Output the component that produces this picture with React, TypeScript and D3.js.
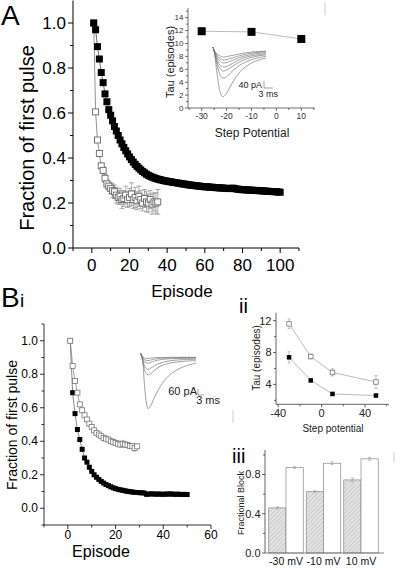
import React from "react";
import * as d3 from "d3";

const W = 404;
const H = 568;
const FONT = "'Liberation Sans', Arial, Helvetica, sans-serif";

// ---------- Panel A main ----------
const aFilled = [
  1.0, 0.97, 0.895, 0.84, 0.78, 0.735, 0.685, 0.65, 0.615, 0.59,
  0.565, 0.54, 0.52, 0.5, 0.48, 0.463, 0.447, 0.432, 0.418, 0.405,
  0.393, 0.382, 0.372, 0.363, 0.355, 0.347, 0.34, 0.334, 0.328, 0.323,
  0.319, 0.315, 0.312, 0.309, 0.306, 0.304, 0.302, 0.3, 0.298, 0.297,
  0.295, 0.294, 0.292, 0.291, 0.29, 0.288, 0.287, 0.285, 0.284, 0.283,
  0.281, 0.28, 0.279, 0.278, 0.277, 0.276, 0.275, 0.274, 0.273, 0.272,
  0.272, 0.271, 0.27, 0.27, 0.269, 0.268, 0.268, 0.267, 0.267, 0.266,
  0.265, 0.265, 0.264, 0.265, 0.266, 0.264, 0.262, 0.261, 0.26, 0.259,
  0.259, 0.258, 0.258, 0.257, 0.257, 0.256, 0.256, 0.255, 0.255, 0.254,
  0.254, 0.253, 0.252, 0.252, 0.251, 0.251, 0.25, 0.25, 0.249, 0.248,
];
const aOpen = [
  1.0, 0.605, 0.48, 0.42, 0.365, 0.345, 0.31, 0.285, 0.275, 0.265,
  0.255, 0.25, 0.235, 0.225, 0.23, 0.215, 0.22, 0.235, 0.215, 0.225,
  0.24, 0.215, 0.225, 0.21, 0.23, 0.215, 0.2, 0.22, 0.205, 0.2,
  0.215, 0.195, 0.205, 0.2, 0.205,
];
const aOpenErr = [
  0, 0.008, 0.01, 0.01, 0.012, 0.015, 0.018, 0.02, 0.02, 0.025,
  0.03, 0.03, 0.035, 0.03, 0.035, 0.04, 0.035, 0.04, 0.035, 0.04,
  0.05, 0.04, 0.045, 0.04, 0.045, 0.04, 0.035, 0.04, 0.045, 0.04,
  0.04, 0.045, 0.04, 0.045, 0.055,
];
const aXMajor = [0, 20, 40, 60, 80, 100];
const aXMinor = [-10, 10, 30, 50, 70, 90, 110];
const aYMajor = [0, 0.2, 0.4, 0.6, 0.8, 1.0];
const aYMinor = [0.1, 0.3, 0.5, 0.7, 0.9];

// ---------- Panel A inset ----------
const insetPotentials = [-30, -10, 10];
const insetTau = [11.9, 11.8, 10.7];
const insetTauErr = [0.4, 0.3, 0.4];
const insetXMajor = [-30, -20, -10, 0, 10];
const insetXMinor = [-35, -25, -15, -5, 5, 15];
const insetYMajor = [0, 2, 4, 6, 8, 10, 12, 14];
const insetYMinor = [1, 3, 5, 7, 9, 11, 13, 15];

const traceTimesA = [0, 0.5, 1.5, 2.5, 3.3, 4.5, 6, 8, 10, 13, 16, 18];
const tracesA = [
  [17, -20, -150, -245, -267, -250, -205, -150, -110, -75, -55, -46],
  [17, -15, -95, -145, -160, -155, -130, -100, -78, -56, -42, -36],
  [17, -12, -75, -108, -120, -116, -100, -78, -60, -43, -32, -28],
  [17, -10, -60, -88, -97, -95, -82, -64, -48, -34, -26, -22],
  [17, -8, -45, -66, -74, -72, -63, -50, -38, -26, -18, -15],
  [17, -6, -35, -50, -57, -55, -48, -38, -28, -18, -12, -10],
  [17, -4, -24, -35, -40, -38, -33, -26, -19, -12, -8, -6],
];

// ---------- Panel Bi ----------
const bOpen = [
  1.0, 0.85, 0.76, 0.69, 0.62, 0.585, 0.555, 0.53, 0.505, 0.485,
  0.465, 0.45, 0.44, 0.43, 0.42, 0.415, 0.41, 0.4, 0.395, 0.39,
  0.385, 0.38, 0.385, 0.38, 0.378, 0.372, 0.37, 0.36, 0.37,
];
const bOpenErr = [
  0, 0.01, 0.01, 0.01, 0.01, 0.01, 0.01, 0.01, 0.01, 0.01,
  0.01, 0.01, 0.01, 0.012, 0.012, 0.012, 0.012, 0.012, 0.012, 0.015,
  0.015, 0.015, 0.02, 0.015, 0.015, 0.015, 0.015, 0.02, 0.015,
];
const bFilled = [
  1.0, 0.69, 0.565, 0.47, 0.41, 0.352, 0.3, 0.275, 0.245, 0.22,
  0.2, 0.185, 0.172, 0.16, 0.15, 0.142, 0.135, 0.128, 0.122, 0.117,
  0.113, 0.11, 0.107, 0.104, 0.101, 0.099, 0.097, 0.095, 0.094, 0.093,
  0.092, 0.091, 0.083, 0.085, 0.086, 0.085, 0.084, 0.085, 0.084, 0.083,
  0.085, 0.084, 0.086, 0.084, 0.083, 0.084, 0.083, 0.082, 0.083, 0.082,
];
const bXMajor = [0, 20, 40, 60];
const bXMinor = [-10, 10, 30, 50];
const bYMajor = [0, 0.2, 0.4, 0.6, 0.8, 1.0];
const bYMinor = [-0.1, 0.1, 0.3, 0.5, 0.7, 0.9, 1.1];

const traceTimesB = [0, 1, 2, 3, 3.8, 5, 7, 10, 14, 18, 23, 28];
const tracesB = [
  [40, -50, -300, -470, -517, -490, -400, -290, -190, -130, -85, -60],
  [40, -30, -130, -170, -177, -165, -130, -90, -62, -48, -38, -34],
  [40, -20, -90, -115, -120, -110, -85, -58, -38, -28, -22, -20],
  [40, -10, -48, -58, -60, -52, -38, -24, -15, -12, -10, -10],
  [40, 0, -25, -32, -34, -28, -18, -10, -6, -4, -3, -3],
  [40, 8, -8, -12, -11, -8, -4, -2, -1, 0, 0, 0],
];

// ---------- Panel ii ----------
const iiSteps = [-30, -10, 10, 50];
const iiOpen = [11.6, 7.5, 5.5, 4.3];
const iiOpenErr = [0.6, 0.3, 0.45, 0.8];
const iiFilled = [7.4, 4.5, 2.8, 2.6];
const iiFilledErr = [0.7, 0.2, 0.2, 0.2];
const iiXMajor = [-40, 0, 40];
const iiXMinor = [-20, 20, 60];
const iiYMajor = [4, 8, 12];
const iiYMinor = [2, 6, 10];

// ---------- Panel iii ----------
const iiiCats = ["-30 mV", "-10 mV", "10 mV"];
const iiiHatched = [0.46, 0.625, 0.745];
const iiiHatchedErr = [0.01, 0.01, 0.02];
const iiiOpen = [0.87, 0.915, 0.96];
const iiiOpenErr = [0.01, 0.015, 0.015];
const iiiYMajor = [0, 0.4, 0.8];
const iiiYMinor = [0.2, 0.6, 1.0];

type Lin = d3.ScaleLinear<number, number>;

function AxisLeft(p: {
  scale: Lin; x: number; major: number[]; minor: number[]; fmt: (v: number) => string;
  fs: number; tick: number; mtick: number; gap: number; sw: number; color?: string;
}) {
  const [r0, r1] = p.scale.range();
  const c = p.color || "#000";
  return (
    <g>
      <line x1={p.x} x2={p.x} y1={r0} y2={r1} stroke={c} strokeWidth={p.sw} />
      {p.major.map((v) => (
        <g key={"M" + v}>
          <line x1={p.x - p.tick} x2={p.x} y1={p.scale(v)} y2={p.scale(v)} stroke={c} strokeWidth={p.sw} />
          <text x={p.x - p.tick - p.gap} y={p.scale(v)} dy="0.35em" textAnchor="end" fontSize={p.fs} fill={c}>
            {p.fmt(v)}
          </text>
        </g>
      ))}
      {p.minor.map((v) => (
        <line key={"m" + v} x1={p.x - p.mtick} x2={p.x} y1={p.scale(v)} y2={p.scale(v)} stroke={c} strokeWidth={p.sw} />
      ))}
    </g>
  );
}

function AxisBottom(p: {
  scale: Lin; y: number; major: number[]; minor: number[]; fmt: (v: number) => string;
  fs: number; tick: number; mtick: number; labelY: number; sw: number; color?: string;
}) {
  const [r0, r1] = p.scale.range();
  const c = p.color || "#000";
  return (
    <g>
      <line x1={r0} x2={r1} y1={p.y} y2={p.y} stroke={c} strokeWidth={p.sw} />
      {p.major.map((v) => (
        <g key={"M" + v}>
          <line x1={p.scale(v)} x2={p.scale(v)} y1={p.y} y2={p.y + p.tick} stroke={c} strokeWidth={p.sw} />
          <text x={p.scale(v)} y={p.labelY} textAnchor="middle" fontSize={p.fs} fill={c}>
            {p.fmt(v)}
          </text>
        </g>
      ))}
      {p.minor.map((v) => (
        <line key={"m" + v} x1={p.scale(v)} x2={p.scale(v)} y1={p.y} y2={p.y + p.mtick} stroke={c} strokeWidth={p.sw} />
      ))}
    </g>
  );
}

function Squares(p: { xs: number[]; ys: number[]; x: Lin; y: Lin; size: number; filled: boolean; stroke?: string; sw?: number }) {
  const s = p.size;
  return (
    <g>
      {p.xs.map((xv, i) => (
        <rect
          key={i}
          x={p.x(xv) - s / 2}
          y={p.y(p.ys[i]) - s / 2}
          width={s}
          height={s}
          fill={p.filled ? "#000" : "#fff"}
          stroke={p.filled ? "#000" : p.stroke || "#666"}
          strokeWidth={p.filled ? 0 : p.sw || 0.9}
        />
      ))}
    </g>
  );
}

function ErrBars(p: { xs: number[]; ys: number[]; es: number[]; x: Lin; y: Lin; cap: number; color: string; sw: number }) {
  return (
    <g stroke={p.color} strokeWidth={p.sw}>
      {p.xs.map((xv, i) => {
        if (!p.es[i]) return null;
        const cx = p.x(xv);
        const y1 = p.y(p.ys[i] + p.es[i]);
        const y2 = p.y(p.ys[i] - p.es[i]);
        return (
          <g key={i}>
            <line x1={cx} x2={cx} y1={y1} y2={y2} />
            <line x1={cx - p.cap / 2} x2={cx + p.cap / 2} y1={y1} y2={y1} />
            <line x1={cx - p.cap / 2} x2={cx + p.cap / 2} y1={y2} y2={y2} />
          </g>
        );
      })}
    </g>
  );
}

function ScaleBar(p: { x: number; y: number; h: number; w: number; color: string }) {
  return (
    <g stroke={p.color} strokeWidth={0.7} fill="none">
      <line x1={p.x} x2={p.x} y1={p.y - p.h} y2={p.y} />
      <line x1={p.x} x2={p.x + p.w} y1={p.y} y2={p.y} />
    </g>
  );
}

function pathOf(xs: number[], ys: number[], x: Lin, y: Lin, curve?: d3.CurveFactory) {
  const gen = d3
    .line<number>()
    .x((_, i) => x(xs[i]))
    .y((v) => y(v));
  if (curve) gen.curve(curve);
  return gen(ys) || "";
}

const f1 = (v: number) => d3.format(".1f")(v);
const f0 = (v: number) => String(v);

export default function App() {
  // Panel A
  const xA = d3.scaleLinear().domain([-10, 110]).range([73, 299]);
  const yA = d3.scaleLinear().domain([0, 1.1]).range([248, 0.5]);
  const epA = aFilled.map((_, i) => i + 1);
  const epAo = aOpen.map((_, i) => i + 1);

  // Inset A
  const xI = d3.scaleLinear().domain([-35.5, 15.5]).range([188, 315]);
  const yI = d3.scaleLinear().domain([0, 15.5]).range([108, 8]);
  const xTA = d3.scaleLinear().domain([0, 18]).range([213, 266]);
  const yTA = d3.scaleLinear().domain([0, -280]).range([50, 99]);

  // Panel Bi
  const xB = d3.scaleLinear().domain([-10, 60]).range([44, 211]);
  const yB = d3.scaleLinear().domain([-0.1, 1.1]).range([525, 324]);
  const epBo = bOpen.map((_, i) => i + 1);
  const epBf = bFilled.map((_, i) => i + 1);
  const xTB = d3.scaleLinear().domain([0, 28]).range([140.7, 196]);
  const yTB = d3.scaleLinear().domain([0, -520]).range([357.3, 409]);

  // Panel ii
  const xII = d3.scaleLinear().domain([-42, 62]).range([276, 389]);
  const yII = d3.scaleLinear().domain([1.5, 13]).range([404.3, 312.7]);

  // Panel iii
  const yIII = d3.scaleLinear().domain([0, 1.05]).range([553, 450]);
  const xIII = d3.scaleBand<string>().domain(iiiCats).range([265, 382]).paddingInner(0.08).paddingOuter(0.1);
  const half = xIII.bandwidth() / 2;
  const idx = iiiCats.map((_, i) => i);
  const xHatchCenter = d3.scaleLinear().domain([0, 1]).range([(xIII(iiiCats[0]) as number) + half / 2, (xIII(iiiCats[1]) as number) + half / 2]);
  const xOpenCenter = d3.scaleLinear().domain([0, 1]).range([(xIII(iiiCats[0]) as number) + half * 1.5, (xIII(iiiCats[1]) as number) + half * 1.5]);

  return (
    <div style={{ position: "absolute", left: 0, top: 0, width: W, height: H, background: "#fff" }}>
      <svg width={W} height={H} viewBox={`0 0 ${W} ${H}`} style={{ display: "block", fontFamily: FONT }}>
        <defs>
          <pattern id="hatch" patternUnits="userSpaceOnUse" width="3" height="3" patternTransform="rotate(45)">
            <rect width="3" height="3" fill="#e4e4e4" />
            <line x1="0" y1="0" x2="0" y2="3" stroke="#b0b0b0" strokeWidth="1" />
          </pattern>
        </defs>
        <rect width={W} height={H} fill="#fff" />

        {/* stray frame marks */}
        <line x1={325} x2={325} y1={2} y2={15} stroke="#cfcfcf" strokeWidth={1} />
        <line x1={233} x2={233} y1={410} y2={423} stroke="#cfcfcf" strokeWidth={1} />
        <line x1={394} x2={394} y1={452} y2={463} stroke="#cfcfcf" strokeWidth={1} />

        {/* ===== Panel A ===== */}
        <text x={1} y={25} fontSize={28}>A</text>
        <AxisLeft scale={yA} x={73} major={aYMajor} minor={aYMinor} fmt={f1} fs={17} tick={5} mtick={3} gap={2} sw={1} />
        <AxisBottom scale={xA} y={248} major={aXMajor} minor={aXMinor} fmt={f0} fs={17} tick={5} mtick={3} labelY={271} sw={1} />
        <text transform={`translate(27,138) rotate(-90)`} textAnchor="middle" dy="0.35em" fontSize={20}>
          Fraction of first pulse
        </text>
        <text x={182} y={297} textAnchor="middle" fontSize={17}>Episode</text>

        <path d={pathOf(epAo, aOpen, xA, yA)} fill="none" stroke="#777" strokeWidth={0.8} />
        <ErrBars xs={epAo} ys={aOpen} es={aOpenErr} x={xA} y={yA} cap={5} color="#888" sw={0.7} />
        <Squares xs={epAo} ys={aOpen} x={xA} y={yA} size={6} filled={false} stroke="#666" sw={0.9} />
        <path d={pathOf(epA, aFilled, xA, yA)} fill="none" stroke="#444" strokeWidth={0.8} />
        <Squares xs={epA} ys={aFilled} x={xA} y={yA} size={7} filled={true} />

        {/* Inset A */}
        <AxisLeft scale={yI} x={188} major={insetYMajor} minor={insetYMinor} fmt={f0} fs={8} tick={3} mtick={2} gap={1.5} sw={0.7} color="#333" />
        <AxisBottom scale={xI} y={108} major={insetXMajor} minor={insetXMinor} fmt={f0} fs={8.5} tick={3} mtick={2} labelY={119} sw={0.7} color="#333" />
        <text transform={`translate(170,62) rotate(-90)`} textAnchor="middle" dy="0.35em" fontSize={11} fill="#222">
          Tau (episodes)
        </text>
        <text x={252} y={137} textAnchor="middle" fontSize={12} fill="#222">Step Potential</text>
        <path d={pathOf(insetPotentials, insetTau, xI, yI)} fill="none" stroke="#aaa" strokeWidth={0.8} />
        <ErrBars xs={insetPotentials} ys={insetTau} es={insetTauErr} x={xI} y={yI} cap={3} color="#999" sw={0.6} />
        <Squares xs={insetPotentials} ys={insetTau} x={xI} y={yI} size={8} filled={true} />
        {tracesA.map((tr, k) => (
          <path key={k} d={pathOf(traceTimesA, tr, xTA, yTA, d3.curveCatmullRom)} fill="none" stroke="#777" strokeWidth={0.7} />
        ))}
        <text x={262} y={88} textAnchor="end" fontSize={9} fill="#222">40 pA</text>
        <ScaleBar x={264} y={88} h={yTA(-40) - yTA(0)} w={xTA(3) - xTA(0)} color="#777" />
        <text x={278} y={97} textAnchor="end" fontSize={9} fill="#222">3 ms</text>

        {/* ===== Panel Bi ===== */}
        <text x={1} y={307} fontSize={28}>B</text>
        <text x={20} y={307} fontSize={19}>i</text>
        <AxisLeft scale={yB} x={44} major={bYMajor} minor={bYMinor} fmt={f1} fs={12} tick={4} mtick={2.5} gap={2} sw={0.8} />
        <AxisBottom scale={xB} y={525} major={bXMajor} minor={bXMinor} fmt={f0} fs={12} tick={4} mtick={2.5} labelY={539} sw={0.8} />
        <text transform={`translate(12,425) rotate(-90)`} textAnchor="middle" dy="0.35em" fontSize={14}>
          Fraction of first pulse
        </text>
        <text x={101} y={557} textAnchor="middle" fontSize={16}>Episode</text>

        <path d={pathOf(epBf, bFilled, xB, yB)} fill="none" stroke="#555" strokeWidth={0.7} />
        <Squares xs={epBf} ys={bFilled} x={xB} y={yB} size={5} filled={true} />
        <path d={pathOf(epBo, bOpen, xB, yB)} fill="none" stroke="#777" strokeWidth={0.7} />
        <ErrBars xs={epBo} ys={bOpen} es={bOpenErr} x={xB} y={yB} cap={3} color="#999" sw={0.6} />
        <Squares xs={epBo} ys={bOpen} x={xB} y={yB} size={5} filled={false} stroke="#777" sw={0.8} />

        {tracesB.map((tr, k) => (
          <path key={k} d={pathOf(traceTimesB, tr, xTB, yTB, d3.curveCatmullRom)} fill="none" stroke="#777" strokeWidth={0.7} />
        ))}
        <text x={197} y={395} textAnchor="end" fontSize={11} fill="#222">60 pA</text>
        <ScaleBar x={198} y={395} h={yTB(-60) - yTB(0)} w={xTB(3) - xTB(0)} color="#777" />
        <text x={220} y={404} textAnchor="end" fontSize={11} fill="#222">3 ms</text>

        {/* ===== Panel ii ===== */}
        <text x={239} y={313} fontSize={20}>ii</text>
        <AxisLeft scale={yII} x={276} major={iiYMajor} minor={iiYMinor} fmt={f0} fs={11} tick={3} mtick={2} gap={1.5} sw={0.7} color="#222" />
        <AxisBottom scale={xII} y={404.3} major={iiXMajor} minor={iiXMinor} fmt={f0} fs={11} tick={3} mtick={2} labelY={417} sw={0.7} color="#222" />
        <text transform={`translate(256,358) rotate(-90)`} textAnchor="middle" dy="0.35em" fontSize={10} fill="#222">
          Tau (episodes)
        </text>
        <text x={333} y={432} textAnchor="middle" fontSize={10} fill="#222">Step potential</text>
        <path d={pathOf(iiSteps, iiOpen, xII, yII)} fill="none" stroke="#aaa" strokeWidth={0.8} />
        <path d={pathOf(iiSteps, iiFilled, xII, yII)} fill="none" stroke="#aaa" strokeWidth={0.8} />
        <ErrBars xs={iiSteps} ys={iiOpen} es={iiOpenErr} x={xII} y={yII} cap={3} color="#999" sw={0.6} />
        <ErrBars xs={iiSteps} ys={iiFilled} es={iiFilledErr} x={xII} y={yII} cap={3} color="#999" sw={0.6} />
        <Squares xs={iiSteps} ys={iiOpen} x={xII} y={yII} size={4.5} filled={false} stroke="#777" sw={0.8} />
        <Squares xs={iiSteps} ys={iiFilled} x={xII} y={yII} size={4.5} filled={true} />

        {/* ===== Panel iii ===== */}
        <text x={232} y={463} fontSize={20}>iii</text>
        <text transform={`translate(241,503) rotate(-90)`} textAnchor="middle" dy="0.35em" fontSize={9} fill="#222">
          Fractional Block
        </text>
        {iiiCats.map((c, i) => {
          const x0 = xIII(c) as number;
          return (
            <g key={c}>
              <rect x={x0} y={yIII(iiiHatched[i])} width={half} height={yIII(0) - yIII(iiiHatched[i])} fill="url(#hatch)" stroke="#888" strokeWidth={0.7} />
              <rect x={x0 + half} y={yIII(iiiOpen[i])} width={half} height={yIII(0) - yIII(iiiOpen[i])} fill="#fff" stroke="#888" strokeWidth={0.7} />
              <text x={x0 + half} y={565} textAnchor="middle" fontSize={10.5} fill="#111">{c}</text>
            </g>
          );
        })}
        <ErrBars xs={idx} ys={iiiHatched} es={iiiHatchedErr} x={xHatchCenter} y={yIII} cap={3} color="#999" sw={0.6} />
        <ErrBars xs={idx} ys={iiiOpen} es={iiiOpenErr} x={xOpenCenter} y={yIII} cap={3} color="#999" sw={0.6} />
        <AxisLeft scale={yIII} x={265} major={iiiYMajor} minor={iiiYMinor} fmt={f1} fs={11} tick={3} mtick={2} gap={1.5} sw={0.7} color="#222" />
        <line x1={265} x2={384} y1={yIII(0)} y2={yIII(0)} stroke="#555" strokeWidth={0.7} />
      </svg>
    </div>
  );
}
